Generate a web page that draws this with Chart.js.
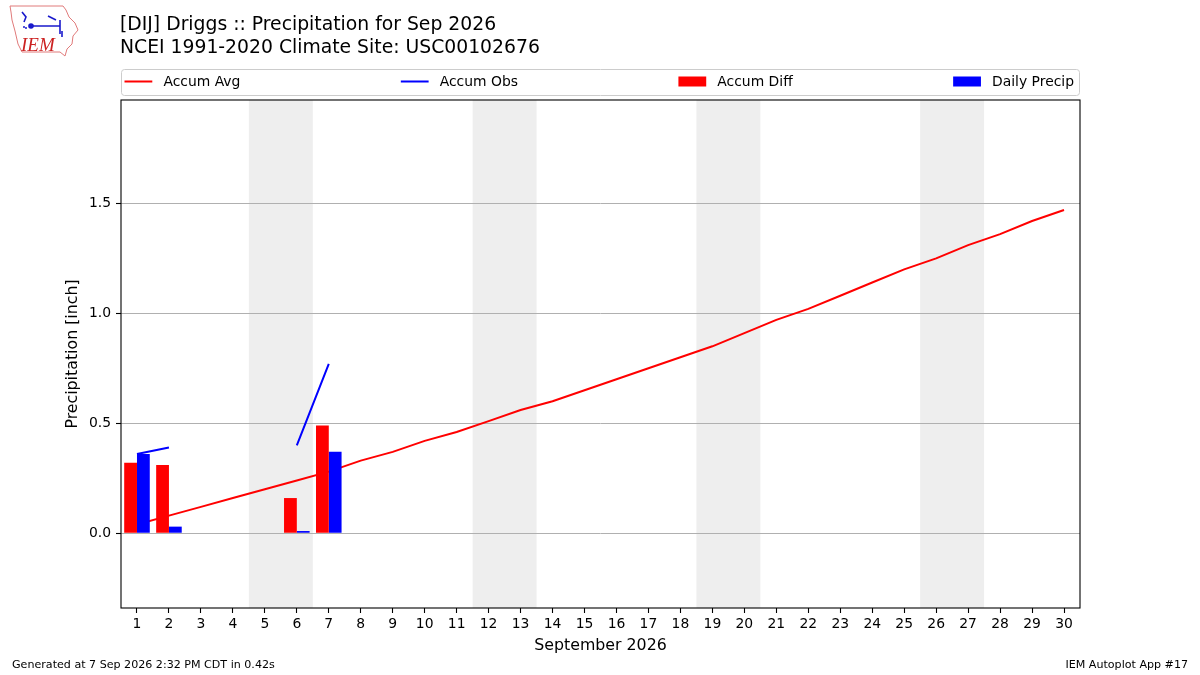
<!DOCTYPE html>
<html>
<head>
<meta charset="utf-8">
<title>DIJ Driggs Precipitation Sep 2026</title>
<script src="https://cdn.jsdelivr.net/npm/chart.js@4.4.0/dist/chart.umd.min.js"></script>
<style>
  html, body { margin: 0; padding: 0; background: #fff; }
  #wrap { width: 1200px; height: 675px; position: relative; }
</style>
</head>
<body>
<div id="wrap"><canvas id="myChart"></canvas></div>
<script>
// day of month labels
const days = ["1", "2", "3", "4", "5", "6", "7", "8", "9", "10",
  "11", "12", "13", "14", "15", "16", "17", "18", "19", "20",
  "21", "22", "23", "24", "25", "26", "27", "28", "29", "30"];

// climatology accumulated precip (inch)
const accumAvg = [0.04, 0.08, 0.12, 0.16, 0.20, 0.24, 0.28, 0.33, 0.37, 0.42,
  0.46, 0.51, 0.56, 0.60, 0.65, 0.70, 0.75, 0.80, 0.85, 0.91,
  0.97, 1.02, 1.08, 1.14, 1.20, 1.25, 1.31, 1.36, 1.42, 1.47];

// observed so far, null = missing
const accumObs = [0.36, 0.39, null, null, null, 0.40, 0.77];
const accumDiff = [0.32, 0.31, null, null, null, 0.16, 0.49];
const dailyPrecip = [0.36, 0.03, null, null, null, 0.01, 0.37];

// sat/sun pairs that get shaded
const weekends = [[5, 6], [12, 13], [19, 20], [26, 27]];

const yTicks = [0.0, 0.5, 1.0, 1.5];
const yMin = -0.34;
const yMax = 1.97;

const titleLines = [
  "[DIJ] Driggs :: Precipitation for Sep 2026",
  "NCEI 1991-2020 Climate Site: USC00102676"
];
const footLeft = "Generated at 7 Sep 2026 2:32 PM CDT in 0.42s";
const footRight = "IEM Autoplot App #17";

const FONT = "'DejaVu Sans', 'Liberation Sans', sans-serif";

const decorPlugin = {
  id: "decor",
  beforeDraw(chart) {
    const { ctx, chartArea } = chart;
    const x = chart.scales.x;
    ctx.save();
    ctx.fillStyle = "#eeeeee";
    for (const [a, b] of weekends) {
      const x0 = x.getPixelForValue(a - 1.5);
      const x1 = x.getPixelForValue(b - 0.5);
      ctx.fillRect(x0, chartArea.top, x1 - x0, chartArea.bottom - chartArea.top);
    }
    ctx.restore();
  },
  afterDraw(chart) {
    const { ctx, chartArea } = chart;
    ctx.save();

    // axes frame
    ctx.strokeStyle = "#000";
    ctx.lineWidth = 1.1;
    ctx.strokeRect(chartArea.left, chartArea.top,
      chartArea.right - chartArea.left, chartArea.bottom - chartArea.top);

    // title
    ctx.fillStyle = "#000";
    ctx.font = "18.8px " + FONT;
    ctx.textBaseline = "middle";
    ctx.textAlign = "left";
    ctx.fillText(titleLines[0], 120, 25.5);
    ctx.fillText(titleLines[1], 120, 48.5);

    // legend, matplotlib "expand" style
    const boxL = chartArea.left, boxR = chartArea.right;
    const boxT = 69, boxB = 95;
    ctx.beginPath();
    ctx.roundRect(boxL + 0.5, boxT + 0.5, boxR - boxL - 1, boxB - boxT, 3);
    ctx.fillStyle = "rgba(255,255,255,0.8)";
    ctx.fill();
    ctx.strokeStyle = "#cccccc";
    ctx.lineWidth = 1;
    ctx.stroke();

    ctx.font = "13.9px " + FONT;
    const handle = 27.8, pad = 11.1;
    const items = chart.data.datasets.map(ds => ({
      label: ds.label,
      color: ds.borderColor,
      type: ds.type,
      w: handle + pad + ctx.measureText(ds.label).width
    }));
    const inner0 = boxL + 3.5, inner1 = boxR - 6;
    const total = items.reduce((s, it) => s + it.w, 0);
    const gap = (inner1 - inner0 - total) / (items.length - 1);
    const cy = 81.5;
    let cx = inner0;
    for (const it of items) {
      if (it.type === "line") {
        ctx.strokeStyle = it.color;
        ctx.lineWidth = 2;
        ctx.beginPath();
        ctx.moveTo(cx, cy);
        ctx.lineTo(cx + handle, cy);
        ctx.stroke();
      } else {
        ctx.fillStyle = it.color;
        ctx.fillRect(cx, cy - 5, handle, 10);
      }
      ctx.fillStyle = "#000";
      ctx.fillText(it.label, cx + handle + pad, cy + 1);
      cx += it.w + gap;
    }

    // footer
    ctx.font = "11.1px " + FONT;
    ctx.fillText(footLeft, 12, 665);
    ctx.textAlign = "right";
    ctx.fillText(footRight, 1188, 665);

    // rough IEM logo
    ctx.strokeStyle = "#e07a7a";
    ctx.lineWidth = 1;
    ctx.beginPath();
    const outline = [[10, 6], [63, 6], [66, 10], [69, 17], [75, 23], [78, 30], [73, 36],
      [72, 44], [67, 49], [65, 56], [60, 52], [22, 52], [18, 44], [15, 31], [12, 20], [11, 12]];
    outline.forEach(([px, py], i) => i ? ctx.lineTo(px, py) : ctx.moveTo(px, py));
    ctx.closePath();
    ctx.stroke();

    ctx.strokeStyle = "#1a1acc";
    ctx.fillStyle = "#1a1acc";
    ctx.lineWidth = 1.6;
    ctx.beginPath();
    ctx.moveTo(31, 26); ctx.lineTo(60, 26);
    ctx.moveTo(60, 20); ctx.lineTo(60, 34);
    ctx.moveTo(22, 12); ctx.lineTo(26, 17); ctx.lineTo(24, 22);
    ctx.moveTo(48, 16); ctx.lineTo(56, 20);
    ctx.moveTo(62, 31); ctx.lineTo(62, 37);
    ctx.stroke();
    ctx.beginPath();
    ctx.arc(31, 26, 2.8, 0, Math.PI * 2);
    ctx.fill();
    ctx.beginPath();
    ctx.arc(24, 27, 1, 0, Math.PI * 2);
    ctx.arc(26, 28, 1, 0, Math.PI * 2);
    ctx.fill();

    ctx.fillStyle = "#cc2222";
    ctx.textAlign = "left";
    ctx.textBaseline = "alphabetic";
    ctx.font = "italic 19px 'Liberation Serif', serif";
    ctx.fillText("IEM", 21, 51);

    ctx.restore();
  }
};

const data = {
  labels: days,
  datasets: [{
    type: "line",
    label: "Accum Avg",
    data: accumAvg,
    borderColor: "#ff0000",
    borderWidth: 2,
    pointRadius: 0,
    order: 2
  },
  {
    type: "line",
    label: "Accum Obs",
    data: accumObs,
    borderColor: "#0000ff",
    borderWidth: 2,
    pointRadius: 0,
    spanGaps: false,
    order: 0
  },
  {
    type: "bar",
    label: "Accum Diff",
    data: accumDiff,
    backgroundColor: "#ff0000",
    borderColor: "#ff0000",
    borderWidth: 0,
    categoryPercentage: 0.8,
    barPercentage: 1.0,
    order: 1
  },
  {
    type: "bar",
    label: "Daily Precip",
    data: dailyPrecip,
    backgroundColor: "#0000ff",
    borderColor: "#0000ff",
    borderWidth: 0,
    categoryPercentage: 0.8,
    barPercentage: 1.0,
    order: 1
  }]
};

const config = {
  data,
  options: {
    responsive: true,
    maintainAspectRatio: false,
    animation: false,
    layout: { padding: { left: 0, right: 120, top: 100, bottom: 0 } },
    plugins: {
      legend: { display: false },
      title: { display: false },
      tooltip: { enabled: false }
    },
    scales: {
      x: {
        type: "category",
        offset: true,
        border: { display: false },
        grid: {
          offset: false,
          drawOnChartArea: false,
          tickLength: 5,
          tickColor: "#000",
          tickWidth: 1.1
        },
        ticks: {
          autoSkip: false,
          maxRotation: 0,
          padding: 3,
          color: "#000",
          font: { family: FONT, size: 13.9 }
        },
        title: {
          display: true,
          text: "September 2026",
          color: "#000",
          font: { family: FONT, size: 15.8 },
          padding: { top: 0, bottom: 19.5 }
        },
        afterFit(scale) { scale.height = 67; }
      },
      y: {
        type: "linear",
        min: yMin,
        max: yMax,
        border: { display: false },
        grid: {
          color: "#b0b0b0",
          lineWidth: 1,
          tickLength: 5,
          tickColor: "#000",
          tickWidth: 1.1
        },
        ticks: {
          padding: 5,
          color: "#000",
          font: { family: FONT, size: 13.9 },
          callback: v => Number(v).toFixed(1)
        },
        afterBuildTicks(scale) {
          scale.ticks = yTicks.map(v => ({ value: v }));
        },
        title: {
          display: true,
          text: "Precipitation [inch]",
          color: "#000",
          font: { family: FONT, size: 15.8 },
          padding: { top: 63.5, bottom: 0 }
        },
        afterFit(scale) { scale.width = 121; }
      }
    }
  },
  plugins: [decorPlugin]
};

new Chart(document.getElementById("myChart"), config);
</script>
</body>
</html>
